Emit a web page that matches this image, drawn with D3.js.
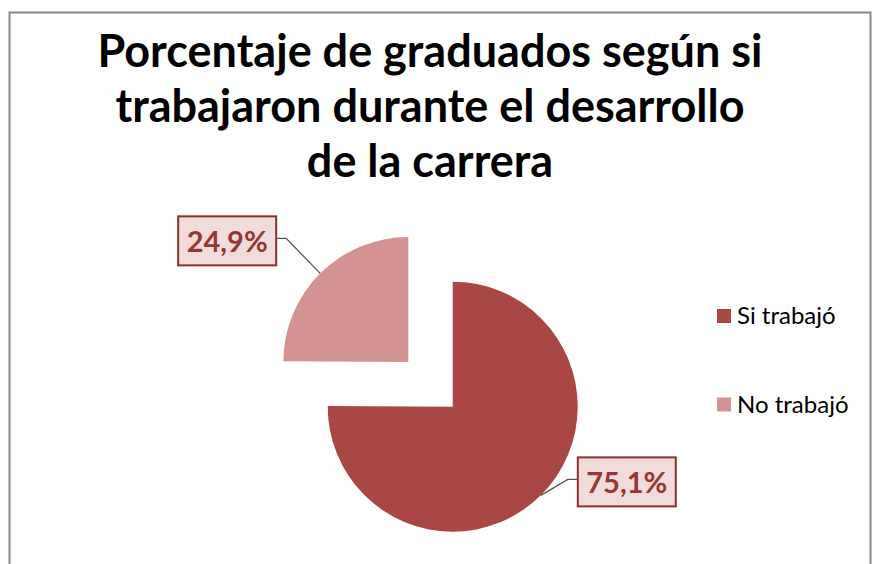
<!DOCTYPE html>
<html lang="es">
<head>
  <meta charset="UTF-8">
  <title>Porcentaje de graduados</title>
  <style>
    body { margin: 0; background: #fff; }
    svg { display: block; }
    text { font-family: Lato, "Open Sans", sans-serif; }
  </style>
</head>
<body>
<div id="chart"></div>
<script src="https://d3js.org/d3.v7.min.js"></script>
<script>
  // data
  const categories = ['Si trabajó', 'No trabajó'];
  const values = [75.1, 24.9];
  const valueLabels = ['75,1%', '24,9%'];
  const titleLines = ['Porcentaje de graduados según si', 'trabajaron durante el desarrollo', 'de la carrera'];

  const width = 878, height = 564;
  const colors = ['#A84744', '#D39392'];
  const explode = [0, 63];
  const radius = 125;
  const cx = 452.7, cy = 406.7;
  // label box offsets from the leader start on the slice edge
  const labelLayout = [
    { elbow: [27, -16], box: [37, -27] },
    { elbow: [-34, -35], box: [-142, -46] }
  ];

  const svg = d3.select('#chart').append('svg')
    .attr('width', width)
    .attr('height', height);

  // chart area border
  svg.append('rect')
    .attr('x', 9.5).attr('y', 12.5)
    .attr('width', 861).attr('height', 600)
    .attr('fill', 'none')
    .attr('stroke', '#888')
    .attr('stroke-width', 2);

  // title
  svg.append('g').selectAll('text')
    .data(titleLines)
    .join('text')
    .attr('x', 430)
    .attr('y', (d, i) => 67 + i * 55)
    .attr('text-anchor', 'middle')
    .attr('font-size', 45)
    .attr('font-weight', 'bold')
    .attr('fill', '#000')
    .text(d => d);

  const pie = d3.pie().sort(null).value(d => d);
  const arc = d3.arc().innerRadius(0).outerRadius(radius);
  const arcs = pie(values);

  const slices = svg.append('g').attr('transform', `translate(${cx},${cy})`);

  arcs.forEach((a, i) => {
    const mid = (a.startAngle + a.endAngle) / 2;
    const ox = Math.sin(mid) * explode[i];
    const oy = -Math.cos(mid) * explode[i];
    const g = slices.append('g').attr('transform', `translate(${ox},${oy})`);
    g.append('path')
      .attr('d', arc(a))
      .attr('fill', colors[i]);

    // leader line + label
    const sx = Math.sin(mid) * radius, sy = -Math.cos(mid) * radius;
    const L = labelLayout[i];
    const ex = sx + L.elbow[0], ey = sy + L.elbow[1];
    const bx = sx + L.box[0], by = sy + L.box[1];
    const bw = 98, bh = 49;
    const left = i === 0;
    g.append('polyline')
      .attr('points', `${sx},${sy} ${ex},${ey} ${left ? bx : bx + bw},${ey}`)
      .attr('fill', 'none')
      .attr('stroke', '#555')
      .attr('stroke-width', 1.3);
    g.append('rect')
      .attr('x', bx).attr('y', by - 11)
      .attr('width', bw).attr('height', bh)
      .attr('fill', '#F2DCDB')
      .attr('stroke', '#8A302E')
      .attr('stroke-width', 2);
    g.append('text')
      .attr('x', bx + bw / 2)
      .attr('y', by - 11 + 36)
      .attr('text-anchor', 'middle')
      .attr('font-size', 29)
      .attr('font-weight', 'bold')
      .attr('fill', '#953735')
      .text(valueLabels[i]);
  });

  // legend
  const legend = svg.append('g').attr('transform', 'translate(717,309)');
  const item = legend.selectAll('g')
    .data(categories)
    .join('g')
    .attr('transform', (d, i) => `translate(0,${i * 88.5})`);
  item.append('rect')
    .attr('width', 14).attr('height', 14)
    .attr('fill', (d, i) => colors[i]);
  item.append('text')
    .attr('x', 20)
    .attr('y', 15)
    .attr('font-size', 24)
    .attr('fill', '#000')
    .text(d => d);
</script>
</body>
</html>
